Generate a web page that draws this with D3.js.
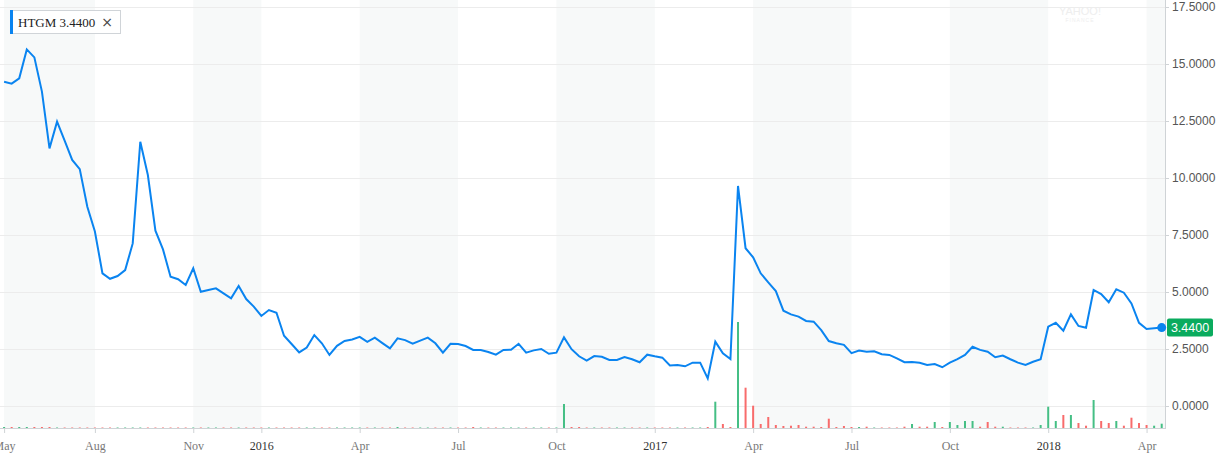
<!DOCTYPE html>
<html><head><meta charset="utf-8">
<script src="https://cdn.jsdelivr.net/npm/d3@7"></script>
<style>body{margin:0;background:#fff;overflow:hidden}</style>
</head><body><svg id="c" width="1220" height="458"></svg>
<script>
// ---------- DATA ----------
const weeks2015 = ["2015-05-11","2015-05-18","2015-05-25","2015-06-01","2015-06-08","2015-06-15","2015-06-22","2015-06-29","2015-07-06","2015-07-13","2015-07-20","2015-07-27","2015-08-03","2015-08-10","2015-08-17","2015-08-24","2015-08-31","2015-09-07","2015-09-14","2015-09-21","2015-09-28","2015-10-05","2015-10-12","2015-10-19","2015-10-26","2015-11-02","2015-11-09","2015-11-16","2015-11-23","2015-11-30","2015-12-07","2015-12-14","2015-12-21","2015-12-28"];
const weeks2016 = ["2016-01-04","2016-01-11","2016-01-18","2016-01-25","2016-02-01","2016-02-08","2016-02-15","2016-02-22","2016-02-29","2016-03-07","2016-03-14","2016-03-21","2016-03-28","2016-04-04","2016-04-11","2016-04-18","2016-04-25","2016-05-02","2016-05-09","2016-05-16","2016-05-23","2016-05-30","2016-06-06","2016-06-13","2016-06-20","2016-06-27","2016-07-04","2016-07-11","2016-07-18","2016-07-25","2016-08-01","2016-08-08","2016-08-15","2016-08-22","2016-08-29","2016-09-05","2016-09-12","2016-09-19","2016-09-26","2016-10-03","2016-10-10","2016-10-17","2016-10-24","2016-10-31","2016-11-07","2016-11-14","2016-11-21","2016-11-28","2016-12-05","2016-12-12","2016-12-19","2016-12-26"];
const weeks2017 = ["2017-01-02","2017-01-09","2017-01-16","2017-01-23","2017-01-30","2017-02-06","2017-02-13","2017-02-20","2017-02-27","2017-03-06","2017-03-13","2017-03-20","2017-03-27","2017-04-03","2017-04-10","2017-04-17","2017-04-24","2017-05-01","2017-05-08","2017-05-15","2017-05-22","2017-05-29","2017-06-05","2017-06-12","2017-06-19","2017-06-26","2017-07-03","2017-07-10","2017-07-17","2017-07-24","2017-07-31","2017-08-07","2017-08-14","2017-08-21","2017-08-28","2017-09-04","2017-09-11","2017-09-18","2017-09-25","2017-10-02","2017-10-09","2017-10-16","2017-10-23","2017-10-30","2017-11-06","2017-11-13","2017-11-20","2017-11-27","2017-12-04","2017-12-11","2017-12-18","2017-12-25"];
const weeks2018 = ["2018-01-01","2018-01-08","2018-01-15","2018-01-22","2018-01-29","2018-02-05","2018-02-12","2018-02-19","2018-02-26","2018-03-05","2018-03-12","2018-03-19","2018-03-26","2018-04-02","2018-04-09","2018-04-16"];

const close2015 = [14.22,14.14,14.37,15.64,15.29,13.79,11.30,12.47,11.64,10.79,10.39,8.74,7.65,5.82,5.58,5.70,5.96,7.13,11.59,10.13,7.69,6.87,5.67,5.56,5.31,6.04,5.01,5.09,5.16,4.94,4.72,5.26,4.69,4.36];
const close2016 = [3.95,4.21,4.09,3.08,2.72,2.35,2.56,3.11,2.75,2.24,2.64,2.85,2.92,3.03,2.81,3.00,2.76,2.53,2.97,2.89,2.73,2.87,3.00,2.75,2.34,2.73,2.72,2.63,2.46,2.46,2.37,2.25,2.46,2.47,2.73,2.34,2.44,2.50,2.29,2.34,3.01,2.49,2.18,1.99,2.19,2.16,2.02,2.02,2.15,2.05,1.92,2.25];
const close2017 = [2.18,2.12,1.78,1.80,1.74,1.90,1.90,1.21,2.82,2.31,2.06,9.65,6.92,6.52,5.82,5.42,5.04,4.18,4.02,3.92,3.73,3.70,3.33,2.85,2.75,2.68,2.32,2.43,2.38,2.40,2.27,2.24,2.09,1.92,1.93,1.90,1.80,1.84,1.70,1.90,2.06,2.24,2.60,2.46,2.38,2.14,2.21,2.05,1.90,1.80,1.94,2.05];
const close2018 = [3.48,3.65,3.30,4.02,3.51,3.43,5.09,4.91,4.55,5.12,4.97,4.50,3.65,3.38,3.41,3.44];

// weekly volume (relative units)
const vol2015 = [0.1,0.1,0.1,0.1,0.1,0.1,0.1,0.05,0.05,0.05,0.05,0.05,0.05,0.05,0.05,0.05,0.05,0.05,0.05,0.05,0.05,0.05,0.05,0.05,0.05,0.05,0.05,0.05,0.05,0.05,0.05,0.05,0.05,0.05];
const vol2016 = [0.05,0.05,0.05,0.05,0.05,0.05,0.05,0.05,0.05,0.05,0.05,0.05,0.05,0.05,0.05,0.05,0.05,0.05,0.1,0.05,0.05,0.05,0.05,0.05,0.05,0.05,0.05,0.05,0.1,0.05,0.05,0.05,0.05,0.05,0.05,0.05,0.05,0.05,0.05,0.05,2.4,0.1,0.1,0.05,0.05,0.05,0.05,0.05,0.05,0.05,0.05,0.05];
const vol2017 = [0.05,0.05,0.05,0.05,0.05,0.05,0.05,0.1,2.63,0.4,0.1,10.6,4.03,2.23,0.4,1.1,0.3,0.2,0.23,0.3,0.13,0.13,0.1,0.93,0.1,0.2,0.1,0.1,0.13,0.05,0.05,0.05,0.05,0.13,0.4,0.13,0.13,0.6,0.1,0.6,0.3,0.7,0.7,0.13,0.6,0.13,0.13,0.05,0.05,0.05,0.05,0.3];
const vol2018 = [2.13,0.7,1.3,1.3,0.5,0.23,2.8,0.7,0.5,0.7,0.23,1.03,0.5,0.3,0.23,0.43];

const tickMonths = ["2015-05","2015-08","2015-11","2016-01","2016-04","2016-07","2016-10","2017-01","2017-04","2017-07","2017-10","2018-01","2018-04"];
const priceTicks = [0, 2.5, 5, 7.5, 10, 12.5, 15, 17.5];
const symbol = "HTGM";

// ---------- BUILD ----------
const parse = d3.timeParse("%Y-%m-%d");
const dates = [...weeks2015, ...weeks2016, ...weeks2017, ...weeks2018].map(parse);
const closes = [...close2015, ...close2016, ...close2017, ...close2018];
const vols = [...vol2015, ...vol2016, ...vol2017, ...vol2018];
const data = dates.map((d, i) => ({date: d, close: closes[i], vol: vols[i], up: i === 0 || closes[i] >= closes[i - 1]}));
const last = data[data.length - 1];

const plotRight = 1165, plotBottom = 428;
const svg = d3.select("#c");

const x = d3.scaleTime().domain([dates[0], dates[dates.length - 1]]).range([4.1, 1161.7]);
const y = d3.scaleLinear().domain([0, 17.5]).range([406, 7]);
const yv = d3.scaleLinear().domain([0, 10]).range([plotBottom, plotBottom - 100]);

const fmtKey = d3.timeFormat("%Y-%m");
const tickDates = tickMonths.map(m => dates.find(d => fmtKey(d) === m));

svg.append("defs").append("clipPath").attr("id", "clip")
  .append("rect").attr("x", 0).attr("y", 0).attr("width", plotRight).attr("height", plotBottom);

// bands
const edges = tickDates.map(d => x(d)).concat([plotRight]);
const bands = svg.append("g");
for (let i = 0; i < edges.length - 1; i++) {
  if (i % 2 === 0) {
    bands.append("rect").attr("x", edges[i]).attr("y", 0)
      .attr("width", edges[i + 1] - edges[i]).attr("height", plotBottom)
      .attr("fill", "#f7f9f9");
  }
}

// gridlines
svg.append("g").selectAll("line").data(priceTicks).join("line")
  .attr("x1", 0).attr("x2", plotRight)
  .attr("y1", d => Math.round(y(d)) + 0.5).attr("y2", d => Math.round(y(d)) + 0.5)
  .attr("stroke", "#ececec").attr("stroke-width", 1);

// watermark
svg.append("text").attr("x", 1080).attr("y", 15).attr("text-anchor", "middle")
  .attr("font-family", "Liberation Sans, Arial, sans-serif").attr("font-size", 11)
  .attr("fill", "#eeeeee").text("YAHOO!");
svg.append("text").attr("x", 1080).attr("y", 22).attr("text-anchor", "middle")
  .attr("font-family", "Liberation Sans, Arial, sans-serif").attr("font-size", 5)
  .attr("fill", "#eeeeee").attr("letter-spacing", 1).text("FINANCE");

// volume bars
const plot = svg.append("g").attr("clip-path", "url(#clip)");
plot.append("g").selectAll("rect").data(data).join("rect")
  .attr("x", d => x(d.date) - 1).attr("width", 2)
  .attr("y", d => yv(d.vol)).attr("height", d => plotBottom - yv(d.vol))
  .attr("fill", d => d.up ? "#45bf85" : "#f86c6c");

// price line
plot.append("path").datum(data)
  .attr("d", d3.line().x(d => x(d.date)).y(d => y(d.close)))
  .attr("fill", "none").attr("stroke", "#0a84f0").attr("stroke-width", 2)
  .attr("stroke-linejoin", "miter");

// axes lines
svg.append("line").attr("x1", plotRight + 0.5).attr("x2", plotRight + 0.5).attr("y1", 0).attr("y2", plotBottom)
  .attr("stroke", "#cfd3d6");
svg.append("line").attr("x1", 0).attr("x2", plotRight + 1).attr("y1", plotBottom + 0.5).attr("y2", plotBottom + 0.5)
  .attr("stroke", "#cfd3d6");

// right axis
const ra = svg.append("g").attr("transform", `translate(${plotRight},0)`)
  .call(d3.axisRight(y).tickValues(priceTicks).tickFormat(d3.format(".4f")).tickSize(4).tickPadding(3));
ra.select(".domain").remove();
ra.selectAll(".tick line").attr("stroke", "#cfd3d6");
ra.selectAll(".tick text").attr("font-family", "Liberation Sans, Arial, sans-serif")
  .attr("font-size", 12).attr("fill", "#555");

// bottom axis
const fmtMon = d3.timeFormat("%b"), fmtYear = d3.timeFormat("%Y");
const ba = svg.append("g").attr("transform", `translate(0,${plotBottom})`)
  .call(d3.axisBottom(x).tickValues(tickDates)
    .tickFormat(d => d.getMonth() === 0 ? fmtYear(d) : fmtMon(d)).tickSize(5).tickPadding(8));
ba.select(".domain").remove();
ba.selectAll(".tick line").attr("stroke", "#cfd3d6");
ba.selectAll(".tick text").attr("font-family", "Liberation Serif, Times New Roman, serif")
  .attr("font-size", 12)
  .attr("fill", d => d.getMonth() === 0 ? "#333" : "#777");

// last value marker
svg.append("circle").attr("cx", x(last.date)).attr("cy", y(last.close)).attr("r", 4.5).attr("fill", "#0a84f0");
svg.append("rect").attr("x", plotRight + 2).attr("y", y(last.close) - 9).attr("width", 46).attr("height", 18)
  .attr("rx", 2).attr("fill", "#0aab5e");
svg.append("text").attr("x", plotRight + 25).attr("y", y(last.close)).attr("dy", "0.35em")
  .attr("text-anchor", "middle").attr("font-family", "Liberation Sans, Arial, sans-serif")
  .attr("font-size", 12.5).attr("fill", "#fff").text(d3.format(".4f")(last.close));

// legend
const lg = svg.append("g");
lg.append("rect").attr("x", 10.5).attr("y", 10.5).attr("width", 110).attr("height", 23)
  .attr("fill", "#fff").attr("stroke", "#d0d4d8");
lg.append("rect").attr("x", 10).attr("y", 10).attr("width", 3).attr("height", 24).attr("fill", "#0a84f0");
lg.append("text").attr("x", 18).attr("y", 26.5)
  .attr("font-family", "Liberation Serif, Times New Roman, serif").attr("font-size", 13)
  .attr("fill", "#222").text(`${symbol} ${d3.format(".4f")(last.close)}`);
lg.append("text").attr("x", 107).attr("y", 26.5).attr("text-anchor", "middle")
  .attr("font-family", "DejaVu Sans, sans-serif").attr("font-size", 14)
  .attr("fill", "#444").text("×");
</script>
</body></html>
